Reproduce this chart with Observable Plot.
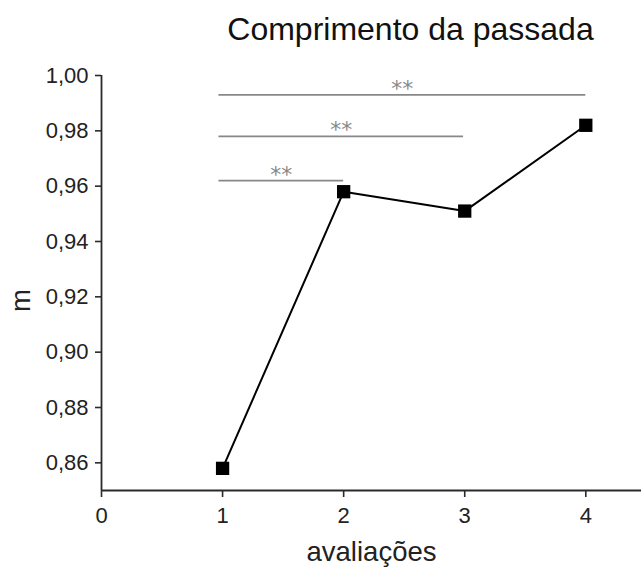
<!DOCTYPE html>
<html>
<head>
<meta charset="utf-8">
<script src="https://cdn.jsdelivr.net/npm/d3@7"></script>
<script src="https://cdn.jsdelivr.net/npm/@observablehq/plot@0.6"></script>
<style>
  body { margin: 0; background: #fff; font-family: "Liberation Sans", Arial, sans-serif; }
  #wrap { width: 641px; position: relative; }
  #title { height: 60px; box-sizing: border-box; padding-top: 13px; padding-left: 180px;
           text-align: center; font-size: 32px; line-height: 32px; color: #111; }
</style>
</head>
<body>
<div id="wrap">
  <div id="title">Comprimento da passada</div>
  <div id="chart"></div>
</div>
<script>
// Data
const avaliacoes = [1, 2, 3, 4];
const comprimento = [0.858, 0.958, 0.951, 0.982];
const bracketStart = [0.97, 0.97, 0.97];
const bracketEnd = [2.0, 2.99, 4.0];
const bracketLevel = [0.962, 0.978, 0.993];
const bracketLabel = ["**", "**", "**"];
const xTicks = [0, 1, 2, 3, 4];
const yTicks = [0.86, 0.88, 0.90, 0.92, 0.94, 0.96, 0.98, 1.00];

const points = avaliacoes.map((a, i) => ({x: a, y: comprimento[i]}));
const brackets = bracketLevel.map((lv, i) => ({x1: bracketStart[i], x2: bracketEnd[i], y: lv, label: bracketLabel[i], xm: (bracketStart[i] + bracketEnd[i]) / 2}));

const axisColor = "#2a2a2a";
const fmt = d => d.toFixed(2).replace(".", ",");

const chart = Plot.plot({
  width: 641,
  height: 508,
  marginTop: 15,
  marginBottom: 78,
  marginLeft: 101,
  marginRight: 0,
  style: {fontFamily: "'Liberation Sans', Arial, sans-serif", fontSize: "22px", color: "#222", background: "white"},
  x: {domain: [0, 4.46]},
  y: {domain: [0.85, 1.0]},
  marks: [
    Plot.axisX({ticks: xTicks, tickFormat: d => String(d), tickSize: 7, tickPadding: 10, fontSize: 22, label: null, stroke: axisColor, strokeWidth: 1.6}),
    Plot.axisY({ticks: yTicks, tickFormat: fmt, tickSize: 6, tickPadding: 7, fontSize: 22, label: null, stroke: axisColor, strokeWidth: 1.6}),
    Plot.ruleX([0], {y1: 0.85, y2: 1.0, stroke: axisColor, strokeWidth: 1.8}),
    Plot.ruleY([0.85], {stroke: axisColor, strokeWidth: 1.8}),
    Plot.ruleY(brackets, {x1: "x1", x2: "x2", y: "y", stroke: "#888", strokeWidth: 1.6}),
    Plot.text(brackets, {x: "xm", y: "y", text: "label", dy: -6, fill: "#888", fontSize: 22, fontFamily: "'DejaVu Sans', sans-serif"}),
    Plot.line(points, {x: "x", y: "y", stroke: "#000", strokeWidth: 2}),
    Plot.dot(points, {x: "x", y: "y", symbol: "square", r: 7.5, fill: "#000", stroke: "none"}),
    Plot.text(["avaliações"], {frameAnchor: "bottom", dy: 70, fontSize: 27.5, fill: "#222"}),
    Plot.text(["m"], {frameAnchor: "left", dx: -80, dy: 29, rotate: -90, fontSize: 27.5, fill: "#222"})
  ]
});
document.getElementById("chart").appendChild(chart);
</script>
</body>
</html>
